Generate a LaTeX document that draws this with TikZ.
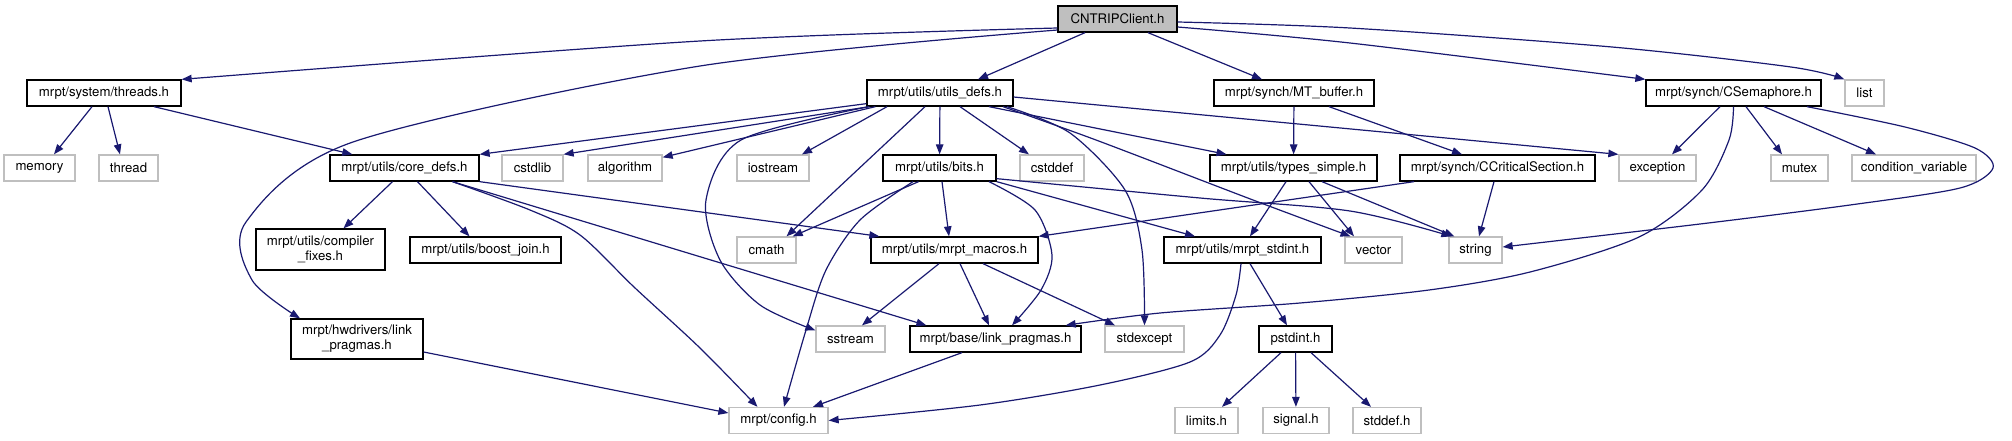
\documentclass[tikz,border=0pt]{standalone}
\usepackage{fontspec}
\setmainfont{TeX Gyre Heros}
\usetikzlibrary{arrows.meta}
\definecolor{edgeblue}{HTML}{191970}
\definecolor{boxgray}{HTML}{BFBFBF}

\begin{document}
\begin{tikzpicture}[x=1pt,y=-1pt,
  font=\fontsize{13.2}{15}\selectfont,
  hdr/.style={draw=black,line width=1.3pt,inner sep=0pt,minimum height=26pt,align=center},
  sys/.style={draw=boxgray,line width=1.3pt,inner sep=0pt,minimum height=26pt,align=center},
  root/.style={hdr,fill=boxgray},
  incl/.style={draw=edgeblue,line width=1.2pt,-{Triangle[length=10pt,width=7.5pt]}}]

  \useasboundingbox (0,0) rectangle (2012,440);

  \node[root,minimum width=119pt] (client) at (1117.5,19) {CNTRIPClient.h};

  \node[hdr,minimum width=154pt] (threads) at (104,93) {mrpt/system/threads.h};
  \node[hdr,minimum width=146pt] (utilsdefs) at (940,93) {mrpt/utils/utils\_defs.h};
  \node[hdr,minimum width=160pt] (mtbuffer) at (1294,93) {mrpt/synch/MT\_buffer.h};
  \node[hdr,minimum width=175pt] (csem) at (1733.5,93) {mrpt/synch/CSemaphore.h};
  \node[sys,minimum width=39pt] (list) at (1864.5,93) {list};

  \node[sys,minimum width=71pt] (memory) at (39.5,168) {memory};
  \node[sys,minimum width=59pt] (thread) at (128.5,168) {thread};
  \node[hdr,minimum width=149pt] (coredefs) at (404.5,168) {mrpt/utils/core\_defs.h};
  \node[sys,minimum width=61pt] (cstdlib) at (532.5,168) {cstdlib};
  \node[sys,minimum width=74pt] (algorithm) at (625,168) {algorithm};
  \node[sys,minimum width=72pt] (iostream) at (773,168) {iostream};
  \node[hdr,minimum width=113pt] (bits) at (939.5,168) {mrpt/utils/bits.h};
  \node[sys,minimum width=64pt] (cstddef) at (1052,168) {cstddef};
  \node[hdr,minimum width=167pt] (typessimple) at (1293.5,168) {mrpt/utils/types\_simple.h};
  \node[hdr,minimum width=195pt] (ccrit) at (1497.5,168) {mrpt/synch/CCriticalSection.h};
  \node[sys,minimum width=77pt] (exception) at (1657.5,168) {exception};
  \node[sys,minimum width=57pt] (mutex) at (1799.5,168) {mutex};
  \node[sys,minimum width=124pt] (condvar) at (1914,168) {condition\_variable};

  \node[hdr,minimum width=129pt,minimum height=41pt] (compfixes) at (320.5,249.5) {mrpt/utils/compiler\\\_fixes.h};
  \node[hdr,minimum width=151pt] (boostjoin) at (485.5,250) {mrpt/utils/boost\_join.h};
  \node[sys,minimum width=59pt] (cmath) at (766.5,250) {cmath};
  \node[hdr,minimum width=167pt] (macros) at (954.5,250) {mrpt/utils/mrpt\_macros.h};
  \node[hdr,minimum width=157pt] (stdint) at (1242.5,250) {mrpt/utils/mrpt\_stdint.h};
  \node[sys,minimum width=57pt] (vector) at (1373.5,250) {vector};
  \node[sys,minimum width=53pt] (string) at (1475.5,250) {string};

  \node[hdr,minimum width=132pt,minimum height=40pt] (hwlink) at (357,339) {mrpt/hwdrivers/link\\\_pragmas.h};
  \node[sys,minimum width=69pt] (sstream) at (850.5,339) {sstream};
  \node[hdr,minimum width=171pt] (baselink) at (995.5,339) {mrpt/base/link\_pragmas.h};
  \node[sys,minimum width=79pt] (stdexcept) at (1144.5,339) {stdexcept};
  \node[hdr,minimum width=73pt] (pstdint) at (1295.5,339) {pstdint.h};

  \node[sys,minimum width=99pt] (config) at (778.5,420.5) {mrpt/config.h};
  \node[sys,minimum width=63pt] (limits) at (1206.5,420.5) {limits.h};
  \node[sys,minimum width=66pt] (signal) at (1296,420.5) {signal.h};
  \node[sys,minimum width=68pt] (stddef) at (1387,420.5) {stddef.h};

  % CNTRIPClient.h
  \draw[incl] plot[smooth] coordinates {([yshift=-9pt]client.west) (700,41) (threads.north east)};
  \draw[incl] plot[smooth] coordinates {([yshift=-11pt]client.west) (700,66) (353,142) (246,222) (252,280) ([xshift=-57pt]hwlink.north)};
  \draw[incl] ([xshift=-32.5pt]client.south) -- ([xshift=38pt]utilsdefs.north);
  \draw[incl] ([xshift=30.5pt]client.south) -- ([xshift=-32pt]mtbuffer.north);
  \draw[incl] plot[smooth] coordinates {([yshift=-8pt]client.east) (1350,43) (csem.north west)};
  \draw[incl] plot[smooth] coordinates {([yshift=-3pt]client.east) (1350,28) (1612,47) (1791,67) (list.north west)};

  % threads.h
  \draw[incl] ([xshift=-12pt]threads.south) -- ([xshift=14.5pt]memory.north);
  \draw[incl] ([xshift=4pt]threads.south) -- ([xshift=-8.5pt]thread.north);
  \draw[incl] ([xshift=50pt]threads.south) -- ([xshift=23pt]coredefs.north west);

  % utils_defs.h
  \draw[incl] ([yshift=3pt]utilsdefs.south west) -- (coredefs.north east);
  \draw[incl] ([xshift=3pt]utilsdefs.south west) -- (cstdlib.north east);
  \draw[incl] ([xshift=9pt]utilsdefs.south west) -- ([yshift=-3pt]algorithm.north east);
  \draw[incl] ([xshift=-53pt]utilsdefs.south) -- ([xshift=29pt]iostream.north);
  \draw[incl] ([xshift=-15pt]utilsdefs.south) -- ([xshift=20pt]cmath.north);
  \draw[incl] (utilsdefs) -- (bits);
  \draw[incl] ([xshift=20pt]utilsdefs.south) -- ([xshift=-23pt]cstddef.north);
  \draw[incl] plot[smooth] coordinates {([xshift=67pt]utilsdefs.south) (1070,133) (1125,190) (1142,250) (stdexcept.north)};
  \draw[incl] ([xshift=49pt]utilsdefs.south) -- ([xshift=-67pt]typessimple.north);
  \draw[incl] plot[smooth] coordinates {([xshift=63pt]utilsdefs.south) (1096,140) (1253,200) ([xshift=-23pt]vector.north)};
  \draw[incl] ([yshift=-4pt]utilsdefs.east) -- (exception.north west);
  \draw[incl] plot[smooth] coordinates {([xshift=-71pt]utilsdefs.south) (741,140) (706,200) (720,260) (760,305) ([yshift=-5pt]sstream.north west)};

  % core_defs.h
  \draw[incl] ([xshift=-12pt]coredefs.south) -- ([xshift=23pt]compfixes.north);
  \draw[incl] ([xshift=13pt]coredefs.south) -- ([xshift=-16pt]boostjoin.north);
  \draw[incl] (coredefs.south east) -- ([xshift=9pt]macros.north west);
  \draw[incl] ([xshift=48pt]coredefs.south) -- ([xshift=17pt]baselink.north west);
  \draw[incl] plot[smooth] coordinates {([xshift=48pt]coredefs.south) (530,210) (580,235) (634,287) (700,348) ([xshift=-21pt]config.north)};

  % bits.h
  \draw[incl] ([xshift=-21pt]bits.south) -- ([xshift=-4pt]cmath.north east);
  \draw[incl] ([xshift=2.5pt]bits.south) -- ([xshift=-5.5pt]macros.north);
  \draw[incl] plot[smooth] coordinates {([xshift=-26.5pt]bits.south) (860,220) (826,270) (806,330) ([xshift=5.5pt]config.north)};
  \draw[incl] plot[smooth] coordinates {([xshift=49.5pt]bits.south) (1035,210) (1052,255) (1041,290) ([xshift=16.5pt]baselink.north)};
  \draw[incl] (bits.south east) -- ([xshift=-47.5pt]stdint.north);
  \draw[incl] plot[smooth] coordinates {([yshift=3pt]bits.south east) (1200,198) (1350,211) ([xshift=3pt]string.north west)};

  % types_simple.h
  \draw[incl] ([xshift=-7.5pt]typessimple.south) -- ([xshift=7.5pt]stdint.north);
  \draw[incl] ([xshift=15.5pt]typessimple.south) -- ([xshift=-19.5pt]vector.north);
  \draw[incl] ([xshift=28.5pt]typessimple.south) -- ([xshift=6pt]string.north west);

  % MT_buffer.h
  \draw[incl] (mtbuffer) -- (typessimple);
  \draw[incl] ([xshift=35pt]mtbuffer.south) -- ([xshift=-35.5pt]ccrit.north);

  % CCriticalSection.h
  \draw[incl] ([xshift=-83.5pt]ccrit.south) -- (macros.north east);
  \draw[incl] ([xshift=-3.5pt]ccrit.south) -- ([xshift=3.5pt]string.north);

  % CSemaphore.h
  \draw[incl] ([xshift=-13.5pt]csem.south) -- ([xshift=14.5pt]exception.north);
  \draw[incl] plot[smooth] coordinates {(csem.south) (1729,140) (1702,190) (1639,237) (1530,272) (1429,290) (1300,303) (1160,313) ([xshift=-16pt]baselink.north east)};
  \draw[incl] ([xshift=12.5pt]csem.south) -- ([xshift=-17.5pt]mutex.north);
  \draw[incl] ([xshift=30.5pt]csem.south) -- ([xshift=-38pt]condvar.north);
  \draw[incl] plot[smooth] coordinates {([xshift=73.5pt]csem.south) (1905,127) (1975,148) (1993,168) (1960,188) (1850,205) (1700,224) ([yshift=3pt]string.east)};

  % mrpt_macros.h
  \draw[incl] ([xshift=-15.5pt]macros.south) -- ([xshift=11.5pt]sstream.north);
  \draw[incl] ([xshift=5.5pt]macros.south) -- ([xshift=-6.5pt]baselink.north);
  \draw[incl] ([xshift=28.5pt]macros.south) -- ([xshift=-29.5pt]stdexcept.north);

  % mrpt_stdint.h
  \draw[incl] ([xshift=7.5pt]stdint.south) -- ([xshift=-8.5pt]pstdint.north);
  \draw[incl] plot[smooth] coordinates {([xshift=-1.5pt]stdint.south) (1236,295) (1220,335) (1190,362) (1100,385) (980,405) (config.east)};

  % link_pragmas.h, pstdint.h
  \draw[incl] ([yshift=-13pt]hwlink.east) -- ([yshift=7.5pt]config.west);
  \draw[incl] ([xshift=-33.5pt]baselink.south) -- ([xshift=34.5pt]config.north);
  \draw[incl] ([xshift=-14.5pt]pstdint.south) -- ([xshift=15.5pt]limits.north);
  \draw[incl] (pstdint) -- (signal);
  \draw[incl] ([xshift=15.5pt]pstdint.south) -- ([xshift=-16pt]stddef.north);

\end{tikzpicture}
\end{document}
